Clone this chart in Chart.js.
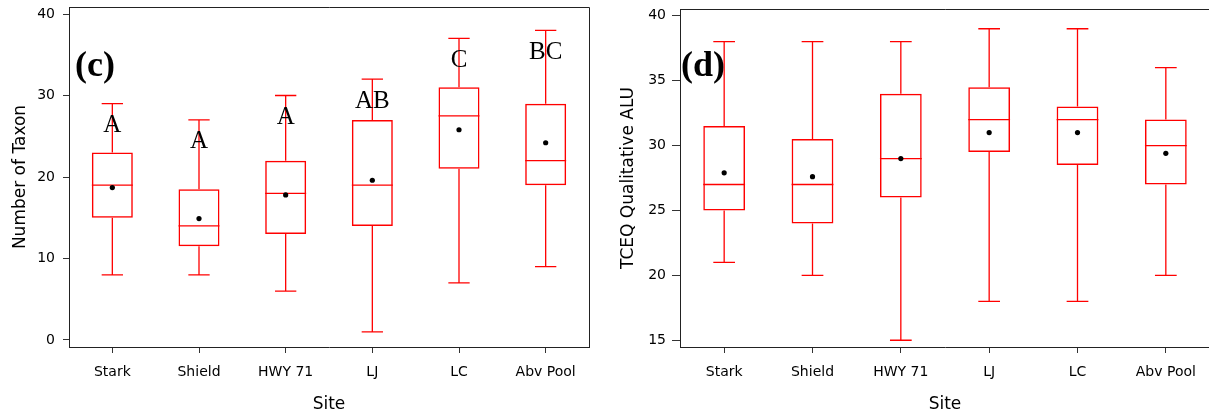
<!DOCTYPE html>
<html>
<head>
<meta charset="utf-8">
<script src="https://cdn.jsdelivr.net/npm/chart.js@4.4.0/dist/chart.umd.min.js"></script>
<style>
  html, body { margin: 0; padding: 0; background: #fff; overflow: hidden; }
  #wrap { position: relative; width: 1209px; height: 415px; overflow: hidden; }
  .panel { position: absolute; top: 0; height: 415px; overflow: hidden; }
</style>
</head>
<body>
<div id="wrap">
  <div class="panel" style="left:0;width:600px"><canvas id="chartC" width="600" height="415"></canvas></div>
  <div class="panel" style="left:600px;width:609px"><canvas id="chartD" width="620" height="415"></canvas></div>
</div>
<script>
const sites = ['Stark', 'Shield', 'HWY 71', 'LJ', 'LC', 'Abv Pool'];

// (c) Number of Taxon
const taxonMin    = [8, 8, 6, 1, 7, 9];
const taxonQ1     = [15, 11.5, 13, 14, 21, 19];
const taxonMedian = [19, 14, 18, 19, 27.5, 22];
const taxonQ3     = [23, 18.5, 22, 27, 31, 29];
const taxonMax    = [29, 27, 30, 32, 37, 38];
const taxonMean   = [18.7, 14.9, 17.8, 19.6, 25.8, 24.2];
const taxonLetters = ['A', 'A', 'A', 'AB', 'C', 'BC'];
const taxonTicks  = [0, 10, 20, 30, 40];

// (d) TCEQ Qualitative ALU
const aluMin    = [21, 20, 15, 18, 18, 20];
const aluQ1     = [25, 24, 26, 29.5, 28.5, 27];
const aluMedian = [27, 27, 29, 32, 32, 30];
const aluQ3     = [31.5, 30.5, 34, 34.5, 33, 32];
const aluMax    = [38, 38, 38, 39, 39, 36];
const aluMean   = [27.9, 27.6, 29, 31, 31, 29.4];
const aluTicks  = [15, 20, 25, 30, 35, 40];

const RED = '#ff0000';

// whiskers, medians, significance letters, panel tag and frame
const boxExtras = {
    id: 'boxExtras',
    beforeDatasetsDraw(chart, args, opts) {
        const ctx = chart.ctx;
        const y = chart.scales.y;
        const meta = chart.getDatasetMeta(0);
        ctx.save();
        ctx.strokeStyle = RED;
        ctx.lineWidth = 1.3;
        meta.data.forEach((bar, i) => {
            const x = bar.x;
            const half = bar.width / 2;
            const cap = bar.width * 0.26;
            const yMin = y.getPixelForValue(opts.mins[i]);
            const yMax = y.getPixelForValue(opts.maxs[i]);
            const yQ1 = y.getPixelForValue(opts.q1[i]);
            const yQ3 = y.getPixelForValue(opts.q3[i]);
            const yMed = y.getPixelForValue(opts.medians[i]);
            ctx.beginPath();
            ctx.moveTo(x, yQ3); ctx.lineTo(x, yMax);
            ctx.moveTo(x - cap, yMax); ctx.lineTo(x + cap, yMax);
            ctx.moveTo(x, yQ1); ctx.lineTo(x, yMin);
            ctx.moveTo(x - cap, yMin); ctx.lineTo(x + cap, yMin);
            ctx.moveTo(x - half, yMed); ctx.lineTo(x + half, yMed);
            ctx.stroke();
        });
        ctx.restore();
    },
    afterDatasetsDraw(chart, args, opts) {
        const ctx = chart.ctx;
        const y = chart.scales.y;
        const area = chart.chartArea;
        const meta = chart.getDatasetMeta(0);
        ctx.save();
        if (opts.letters) {
            ctx.fillStyle = '#000';
            ctx.font = '25px "Liberation Serif", "DejaVu Serif", serif';
            ctx.textAlign = 'center';
            ctx.textBaseline = 'alphabetic';
            meta.data.forEach((bar, i) => {
                ctx.fillText(opts.letters[i], bar.x, y.getPixelForValue(opts.maxs[i]) + 28.5);
            });
        }
        ctx.fillStyle = '#000';
        ctx.font = 'bold 36px "Liberation Serif", "DejaVu Serif", serif';
        ctx.textAlign = 'left';
        ctx.fillText(opts.tag, area.left + opts.tagDx, area.top + opts.tagDy);

        // top and right sides of the frame
        ctx.strokeStyle = '#222';
        ctx.lineWidth = 1;
        const t = Math.round(area.top) + 0.5;
        const r = Math.round(area.right) + 0.5;
        ctx.beginPath();
        ctx.moveTo(area.left, t); ctx.lineTo(r, t); ctx.lineTo(r, area.bottom);
        ctx.stroke();
        ctx.restore();
    }
};

function makeBoxChart(id, d) {
    return new Chart(document.getElementById(id), {
        type: 'bar',
        data: {
            labels: sites,
            datasets: [{
                label: 'IQR',
                data: d.q1.map((v, i) => [v, d.q3[i]]),
                backgroundColor: 'rgba(0,0,0,0)',
                borderColor: RED,
                borderWidth: 1.5,
                borderSkipped: false,
                barPercentage: 0.473,
                categoryPercentage: 1,
                order: 2
            }, {
                type: 'line',
                label: 'Mean',
                data: d.mean,
                showLine: false,
                pointRadius: 2.6,
                pointBackgroundColor: '#000',
                pointBorderColor: '#000',
                pointBorderWidth: 0,
                order: 1
            }]
        },
        options: {
            responsive: false,
            animation: false,
            layout: { padding: { top: d.padTop, right: d.padRight, left: 0, bottom: 0 } },
            plugins: {
                legend: { display: false },
                tooltip: { enabled: false },
                boxExtras: {
                    mins: d.min, q1: d.q1, medians: d.median, q3: d.q3, maxs: d.max,
                    letters: d.letters, tag: d.tag, tagDx: d.tagDx, tagDy: d.tagDy
                }
            },
            scales: {
                x: {
                    offset: true,
                    grid: { display: true, offset: false, drawOnChartArea: false, drawTicks: true, tickLength: 6, color: '#333' },
                    border: { display: true, color: '#222', width: 1 },
                    ticks: { color: '#000', font: { family: '"DejaVu Sans", sans-serif', size: 14 }, padding: 11, maxRotation: 0 },
                    title: { display: true, text: 'Site', color: '#000', font: { family: '"DejaVu Sans", sans-serif', size: 17 }, padding: { top: 0, bottom: 0 } },
                    afterFit: s => { s.height = 68; s.paddingLeft = 0; s.paddingRight = 0; }
                },
                y: {
                    min: d.yMin,
                    max: d.yMax,
                    grid: { display: true, drawOnChartArea: false, drawTicks: true, tickLength: d.tickLen, color: '#333' },
                    border: { display: true, color: '#222', width: 1 },
                    ticks: { color: '#000', font: { family: '"DejaVu Sans", sans-serif', size: 14 }, padding: d.tickPad },
                    afterBuildTicks: s => { s.ticks = d.ticks.map(v => ({ value: v })); },
                    title: { display: true, text: d.yTitle, color: '#000', font: { family: '"DejaVu Sans", sans-serif', size: 17 }, padding: { top: d.titlePad, bottom: 0 } },
                    afterFit: s => { s.width = d.yWidth; s.paddingTop = 0; s.paddingBottom = 0; }
                }
            }
        },
        plugins: [boxExtras]
    });
}

makeBoxChart('chartC', {
    min: taxonMin, q1: taxonQ1, median: taxonMedian, q3: taxonQ3, max: taxonMax, mean: taxonMean,
    letters: taxonLetters, ticks: taxonTicks, yTitle: 'Number of Taxon', tag: '(c)',
    yMin: -0.86, yMax: 40.86, padTop: 7, padRight: 11, yWidth: 69,
    tickLen: 6, tickPad: 8, titlePad: 10, tagDx: 6, tagDy: 69
});

makeBoxChart('chartD', {
    min: aluMin, q1: aluQ1, median: aluMedian, q3: aluQ3, max: aluMax, mean: aluMean,
    letters: null, ticks: aluTicks, yTitle: 'TCEQ Qualitative ALU', tag: '(d)',
    yMin: 14.48, yMax: 40.52, padTop: 9, padRight: 10, yWidth: 80,
    tickLen: 8, tickPad: 6, titlePad: 18, tagDx: 1, tagDy: 67
});
</script>
</body>
</html>
